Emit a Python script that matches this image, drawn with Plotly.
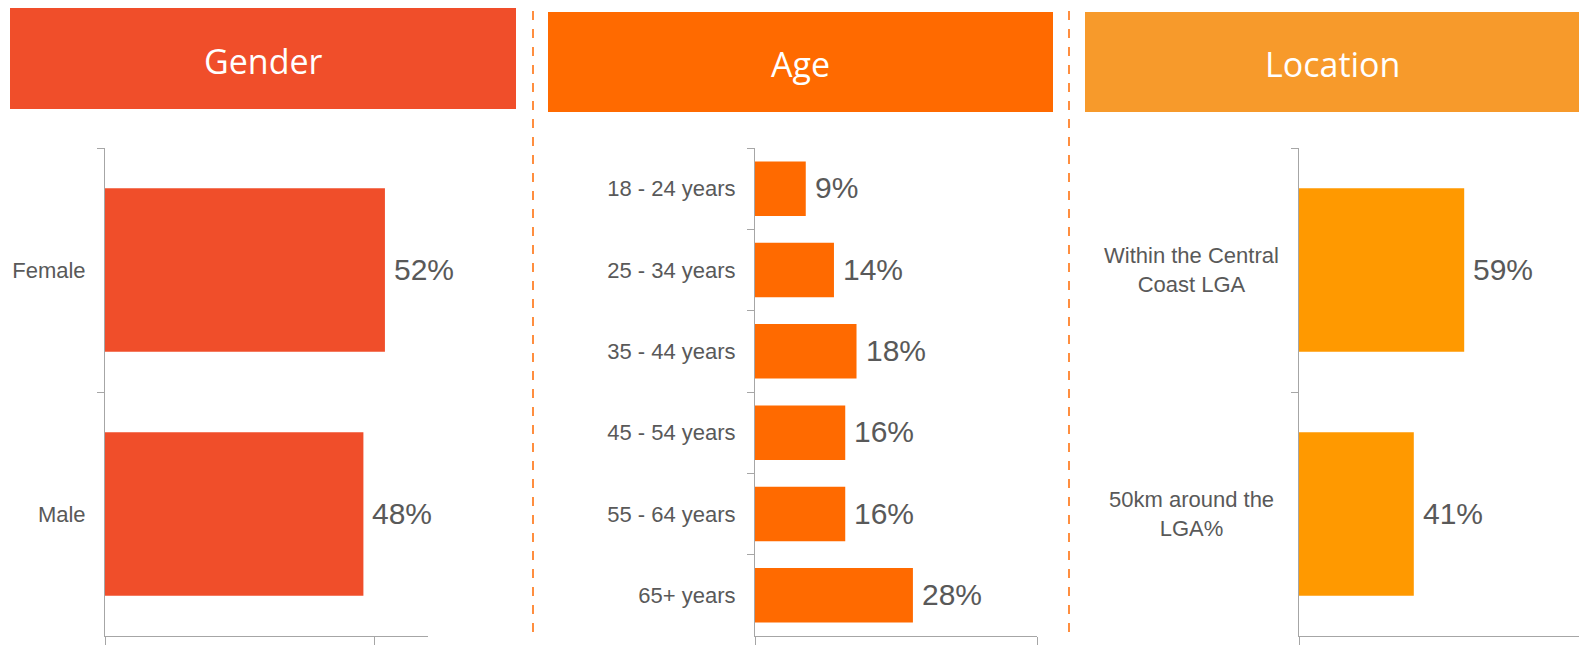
import plotly.graph_objects as go

# Survey profile: share of respondents by gender, age and location
gender_labels = ["Female", "Male"]
gender_values = [52, 48]

age_labels = ["18 - 24 years", "25 - 34 years", "35 - 44 years",
              "45 - 54 years", "55 - 64 years", "65+ years"]
age_values = [9, 14, 18, 16, 16, 28]

location_labels = ["Within the Central<br>Coast LGA", "50km around the<br>LGA%"]
location_values = [59, 41]

panel_titles = ["Gender", "Age", "Location"]

W, H = 1579, 645
GENDER_RED = "#F04E2A"
AGE_ORANGE = "#FF6A00"
LOC_HEADER = "#F79A2B"
LOC_BAR = "#FF9900"
TEXT_GREY = "#595959"
AXIS_GREY = "#A6A6A6"


def px_x(p):
    return p / W


def px_y(p):
    return 1 - p / H


y_dom = [px_y(636), px_y(148)]

fig = go.Figure()

panels = [
    (gender_labels, gender_values, GENDER_RED, "x", "y", [0, 60], [px_x(105), px_x(428)], [0, 50]),
    (age_labels, age_values, AGE_ORANGE, "x2", "y2", [0, 50], [px_x(755), px_x(1037)], [0, 50]),
    (location_labels, location_values, LOC_BAR, "x3", "y3", [0, 100], [px_x(1299), 1.0], [0, 100]),
]

annotations = []
for i, (cats, vals, color, xa, ya, rng, dom, xticks) in enumerate(panels):
    fig.add_trace(go.Bar(
        x=vals, y=cats, orientation="h", marker=dict(color=color, line=dict(width=0)),
        xaxis=xa, yaxis=ya, showlegend=False, hoverinfo="skip",
    ))
    for c, v in zip(cats, vals):
        annotations.append(dict(
            x=v, y=c, xref=xa, yref=ya, text=f"{v}%", showarrow=False,
            xanchor="left", xshift=7, yshift=1,
            font=dict(family="Liberation Sans", size=30, color=TEXT_GREY),
        ))
    sfx = "" if i == 0 else str(i + 1)
    fig.layout["xaxis" + sfx] = dict(
        domain=dom, range=rng, anchor=ya, showgrid=False, zeroline=False,
        showline=True, linecolor=AXIS_GREY, linewidth=1,
        tickmode="array", tickvals=xticks, ticks="outside", ticklen=8,
        tickcolor=AXIS_GREY, showticklabels=False, fixedrange=True,
    )
    fig.layout["yaxis" + sfx] = dict(
        domain=y_dom, anchor=xa, autorange="reversed", type="category",
        showgrid=False, zeroline=False, showline=True, linecolor=AXIS_GREY, linewidth=1,
        ticks="outside", tickson="boundaries", ticklen=7, tickcolor=AXIS_GREY,
        showticklabels=(i < 2), ticklabelstandoff=14,
        tickfont=dict(family="Liberation Sans", size=22, color=TEXT_GREY),
        fixedrange=True,
    )

# Two-line location category labels, centred
for c in location_labels:
    annotations.append(dict(
        x=px_x(1191), y=c, xref="paper", yref="y3", text=c, showarrow=False,
        xanchor="center", align="center",
        font=dict(family="Liberation Sans", size=22, color=TEXT_GREY),
    ))

# Coloured header bands
headers = [
    (10, 516, 8, 109, GENDER_RED),
    (548, 1053, 12, 112, AGE_ORANGE),
    (1085, 1582, 12, 112, LOC_HEADER),
]
shapes = []
for (x0, x1, y0, y1, col), title in zip(headers, panel_titles):
    shapes.append(dict(type="rect", xref="paper", yref="paper",
                       x0=px_x(x0), x1=px_x(x1), y0=px_y(y1), y1=px_y(y0),
                       fillcolor=col, line=dict(width=0), layer="below"))
    annotations.append(dict(
        x=px_x((x0 + min(x1, W)) / 2), y=px_y((y0 + y1) / 2 + 2), xref="paper", yref="paper",
        text=title, showarrow=False, xanchor="center", yanchor="middle",
        font=dict(family="Open Sans", size=34, color="white"),
    ))

# Dashed separators between panels
for xs in (533, 1069):
    shapes.append(dict(type="line", xref="paper", yref="paper",
                       x0=px_x(xs), x1=px_x(xs), y0=px_y(632), y1=px_y(8),
                       line=dict(color=AGE_ORANGE, width=1.5, dash="dash")))

fig.update_layout(
    width=W, height=H, margin=dict(l=0, r=0, t=0, b=0),
    paper_bgcolor="white", plot_bgcolor="white",
    bargap=0.33, shapes=shapes, annotations=annotations,
)

fig.write_html("out.html", config={"displayModeBar": False})
